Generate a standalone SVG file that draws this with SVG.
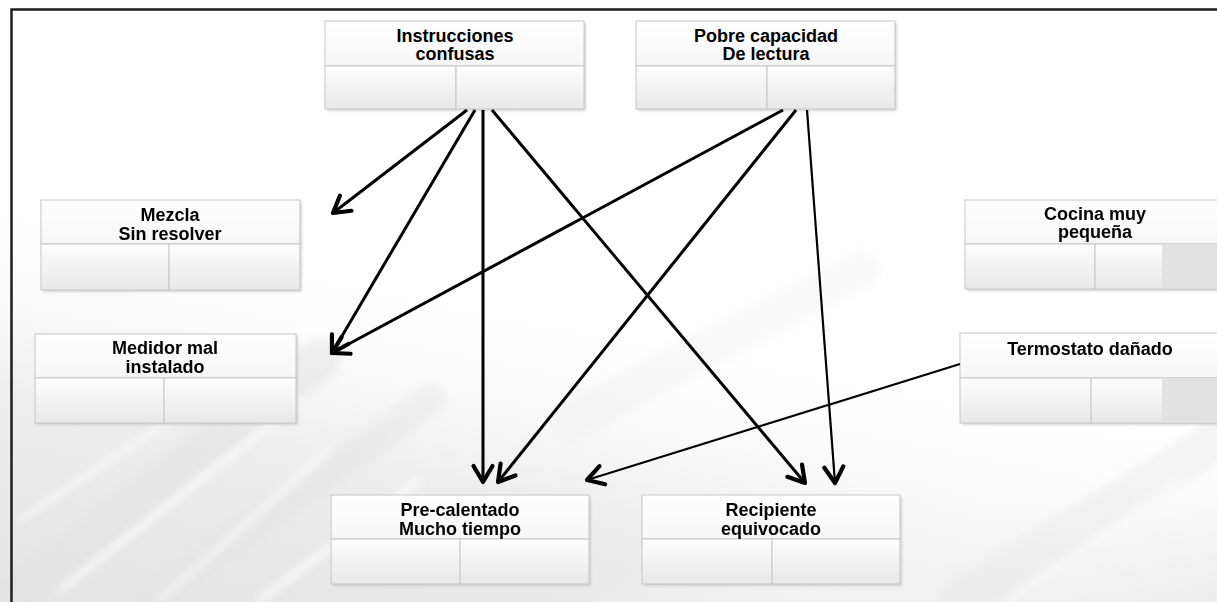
<svg xmlns="http://www.w3.org/2000/svg" width="1217" height="602" viewBox="0 0 1217 602">
  <defs>
    <linearGradient id="wash" x1="0" y1="1" x2="0.5" y2="0.2">
      <stop offset="0" stop-color="#e4e4e4"/>
      <stop offset="0.5" stop-color="#eeeeee"/>
      <stop offset="1" stop-color="#ffffff" stop-opacity="0"/>
    </linearGradient>
    <linearGradient id="wash2" x1="1" y1="1" x2="0.7" y2="0.5">
      <stop offset="0" stop-color="#ececec"/>
      <stop offset="1" stop-color="#ffffff" stop-opacity="0"/>
    </linearGradient>
    <linearGradient id="hdr" x1="0" y1="0" x2="0" y2="1">
      <stop offset="0" stop-color="#ffffff"/>
      <stop offset="1" stop-color="#f6f6f6"/>
    </linearGradient>
    <linearGradient id="cell" x1="0" y1="0" x2="0" y2="1">
      <stop offset="0" stop-color="#fdfdfd"/>
      <stop offset="1" stop-color="#e8e8e8"/>
    </linearGradient>
    <filter id="soft" x="-10%" y="-10%" width="120%" height="120%">
      <feGaussianBlur stdDeviation="4"/>
    </filter>
    <filter id="shadow" x="-5%" y="-5%" width="115%" height="120%">
      <feGaussianBlur stdDeviation="1.2"/>
    </filter>
    <marker id="head" viewBox="-22 -14 28 28" markerWidth="28" markerHeight="28" refX="0" refY="0" orient="auto" markerUnits="userSpaceOnUse">
      <path d="M-16,-9.5 L0,0 L-16,9.5" fill="none" stroke="#000" stroke-width="4.2" stroke-linecap="round" stroke-linejoin="round"/>
    </marker>
  </defs>
  <style>
    .hdr { fill: url(#hdr); stroke: #c6c6c6; stroke-width: 1; }
    .cell { fill: url(#cell); stroke: #c6c6c6; stroke-width: 1; }
    .dim { fill: #e2e2e2; }
    .shd { fill: #bdbdbd; opacity: 0.6; filter: url(#shadow); }
    .lbl { font-family: "Liberation Sans", Arial, sans-serif; font-weight: bold; font-size: 18px; fill: #000; text-anchor: middle; }
    .con { fill: none; stroke: #000; stroke-width: 3; marker-end: url(#head); }
    .thin { stroke-width: 2.2; }
    .streak { fill: none; stroke: #ffffff; stroke-linecap: round; }
    .gstreak { fill: none; stroke: #e2e2e2; stroke-linecap: round; }
  </style>

  <!-- page background with brushed grey wash -->
  <rect x="0" y="0" width="1217" height="602" fill="#ffffff"/>
  <g id="texture">
    <rect x="0" y="220" width="1217" height="382" fill="url(#wash)"/>
    <rect x="600" y="300" width="617" height="302" fill="url(#wash2)"/>
    <g filter="url(#soft)">
      <path class="gstreak" d="M10,600 L320,360" stroke-width="40" opacity="0.5"/>
      <path class="gstreak" d="M150,600 L430,400" stroke-width="30" opacity="0.4"/>
      <path class="gstreak" d="M570,420 L860,270" stroke-width="40" opacity="0.2"/>
      <path class="gstreak" d="M960,600 L1217,440" stroke-width="40" opacity="0.35"/>
      <path class="streak" d="M60,590 L300,400" stroke-width="5" opacity="0.9"/>
      <path class="streak" d="M160,600 L330,450" stroke-width="4" opacity="0.9"/>
      <path class="streak" d="M20,520 L170,420" stroke-width="4" opacity="0.8"/>
      <path class="streak" d="M260,600 L420,480" stroke-width="6" opacity="0.8"/>
      <path class="streak" d="M1010,600 L1180,480" stroke-width="4" opacity="0.8"/>
    </g>
  </g>

  <!-- outer frame -->
  <rect x="11.5" y="9.5" width="1230" height="620" fill="none" stroke="#1e1e1e" stroke-width="2.5"/>

  <!-- nodes -->
  <g id="instrucciones">
    <rect class="shd" x="327" y="23" width="259" height="88"/>
    <rect class="hdr" x="325" y="21" width="259" height="45"/>
    <rect class="cell" x="325" y="66" width="131" height="43"/>
    <rect class="cell" x="456" y="66" width="128" height="43"/>
    <text class="lbl" x="455" y="42">Instrucciones</text>
    <text class="lbl" x="455" y="60">confusas</text>
  </g>
  <g id="pobre-capacidad">
    <rect class="shd" x="638" y="23" width="259" height="88"/>
    <rect class="hdr" x="636" y="21" width="259" height="45"/>
    <rect class="cell" x="636" y="66" width="131" height="43"/>
    <rect class="cell" x="767" y="66" width="128" height="43"/>
    <text class="lbl" x="766" y="42">Pobre capacidad</text>
    <text class="lbl" x="766" y="60">De lectura</text>
  </g>
  <g id="mezcla">
    <rect class="shd" x="43" y="202" width="259" height="90"/>
    <rect class="hdr" x="41" y="200" width="259" height="44"/>
    <rect class="cell" x="41" y="244" width="128" height="46"/>
    <rect class="cell" x="169" y="244" width="131" height="46"/>
    <text class="lbl" x="170" y="221">Mezcla</text>
    <text class="lbl" x="170" y="240">Sin resolver</text>
  </g>
  <g id="medidor">
    <rect class="shd" x="37" y="336" width="261" height="89"/>
    <rect class="hdr" x="35" y="334" width="261" height="44"/>
    <rect class="cell" x="35" y="378" width="129" height="45"/>
    <rect class="cell" x="164" y="378" width="132" height="45"/>
    <text class="lbl" x="165" y="354">Medidor mal</text>
    <text class="lbl" x="165" y="373">instalado</text>
  </g>
  <g id="cocina">
    <rect class="shd" x="967" y="202" width="259" height="89"/>
    <rect class="hdr" x="965" y="200" width="259" height="44"/>
    <rect class="cell" x="965" y="244" width="130" height="45"/>
    <rect class="cell" x="1095" y="244" width="129" height="45"/>
    <rect class="dim" x="1162" y="244.5" width="62" height="44"/>
    <text class="lbl" x="1095" y="220">Cocina muy</text>
    <text class="lbl" x="1095" y="238">pequeña</text>
  </g>
  <g id="termostato">
    <rect class="shd" x="962" y="335" width="259" height="90"/>
    <rect class="hdr" x="960" y="333" width="259" height="45"/>
    <rect class="cell" x="960" y="378" width="131" height="45"/>
    <rect class="cell" x="1091" y="378" width="128" height="45"/>
    <rect class="dim" x="1162" y="378.5" width="57" height="44"/>
    <text class="lbl" x="1090" y="355">Termostato dañado</text>
  </g>
  <g id="precalentado">
    <rect class="shd" x="333" y="497" width="258" height="89"/>
    <rect class="hdr" x="331" y="495" width="258" height="44"/>
    <rect class="cell" x="331" y="539" width="129" height="45"/>
    <rect class="cell" x="460" y="539" width="129" height="45"/>
    <text class="lbl" x="460" y="516">Pre-calentado</text>
    <text class="lbl" x="460" y="535">Mucho tiempo</text>
  </g>
  <g id="recipiente">
    <rect class="shd" x="644" y="497" width="258" height="89"/>
    <rect class="hdr" x="642" y="495" width="258" height="44"/>
    <rect class="cell" x="642" y="539" width="130" height="45"/>
    <rect class="cell" x="772" y="539" width="128" height="45"/>
    <text class="lbl" x="771" y="516">Recipiente</text>
    <text class="lbl" x="771" y="535">equivocado</text>
  </g>

  <!-- connectors -->
  <g id="connectors">
    <path class="con" d="M467,110 L333,213"/>
    <path class="con" d="M475,110 L332,353"/>
    <path class="con" d="M483,110 L483,482"/>
    <path class="con" d="M492,110 L805,483"/>
    <path class="con" d="M783,110 L332,353"/>
    <path class="con" d="M796,110 L498,482"/>
    <path class="con thin" d="M807,110 L835,483"/>
    <path class="con thin" d="M960,364 L587,480"/>
  </g>
</svg>
